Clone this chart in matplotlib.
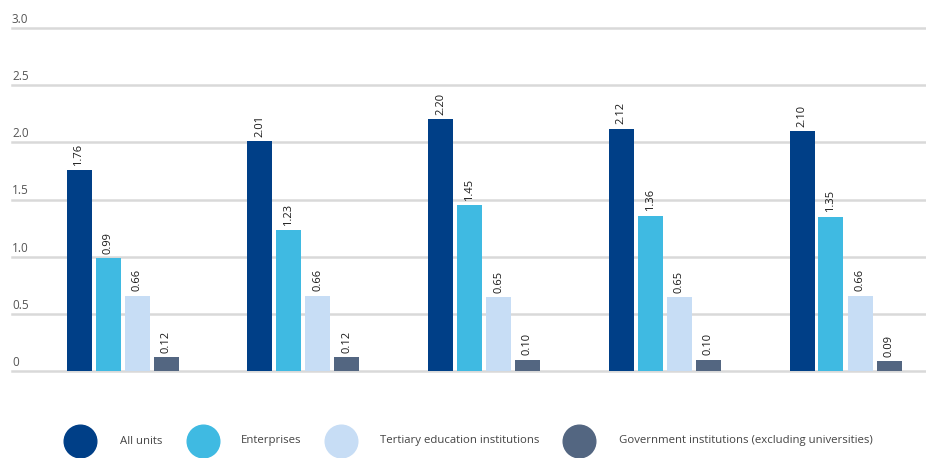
import matplotlib.pyplot as plt
import numpy as np
from matplotlib.lines import Line2D

# Data
series = ["All units", "Enterprises", "Tertiary education institutions",
          "Government institutions (excluding universities)"]
all_units = [1.76, 2.01, 2.20, 2.12, 2.10]
enterprises = [0.99, 1.23, 1.45, 1.36, 1.35]
tertiary = [0.66, 0.66, 0.65, 0.65, 0.66]
government = [0.12, 0.12, 0.10, 0.10, 0.09]
y_ticks = [0, 0.5, 1.0, 1.5, 2.0, 2.5, 3.0]
y_tick_labels = ["0", "0.5", "1.0", "1.5", "2.0", "2.5", "3.0"]

colors = ["#003f87", "#3fbae2", "#c7ddf5", "#536681"]
values = [all_units, enterprises, tertiary, government]

plt.rcParams['font.family'] = ['Open Sans', 'DejaVu Sans']

W, H = 926, 458
fig = plt.figure(figsize=(W / 100, H / 100), dpi=100)
ax = fig.add_axes([12 / W, 87 / H, (926 - 12) / W, (371 - 28) / H])

# geometry in group units (one group = 180.75 px)
gp = 180.75
bar_w = 25 / gp
step = 29 / gp
x = np.arange(len(all_units))

for j, (vals, col) in enumerate(zip(values, colors)):
    pos = x + (j - 1.5) * step
    bars = ax.bar(pos, vals, width=bar_w, color=col, zorder=3)
    for b, v in zip(bars, vals):
        ax.annotate(f"{v:.2f}", (b.get_x() + b.get_width() / 2, v),
                    xytext=(0, 3), textcoords="offset points",
                    rotation=90, ha="center", va="bottom",
                    fontsize=8, color="#1a1a1a")

# horizontal grid lines
for t, lab in zip(y_ticks, y_tick_labels):
    ax.axhline(t, color="#d9d9d9", lw=1.8, zorder=1, clip_on=False)
    ax.annotate(lab, (0, t), xycoords=ax.get_yaxis_transform(),
                xytext=(0, 1.5), textcoords="offset points",
                ha="left", va="bottom", fontsize=8.5, color="#555555")

left = (12 - (67 + 178) / 2) / gp
right = (926 - (67 + 178) / 2) / gp
ax.set_xlim(left, right)
ax.set_ylim(0, 3.0)
ax.set_xticks([])
ax.set_yticks([])
for s in ax.spines.values():
    s.set_visible(False)

# legend drawn by hand at the bottom
marker_x = [80, 203, 341, 579]
text_x = [120, 241, 380, 619]
ly = 441
for mx, tx, col, name in zip(marker_x, text_x, colors, series):
    fig.add_artist(Line2D([mx / W], [1 - ly / H], marker="o", markersize=23.5,
                          color=col, linestyle="none", transform=fig.transFigure))
    fig.text(tx / W, 1 - ly / H, name, ha="left", va="center",
             fontsize=8.2, color="#444444")

fig.savefig("out.png", dpi=100)
